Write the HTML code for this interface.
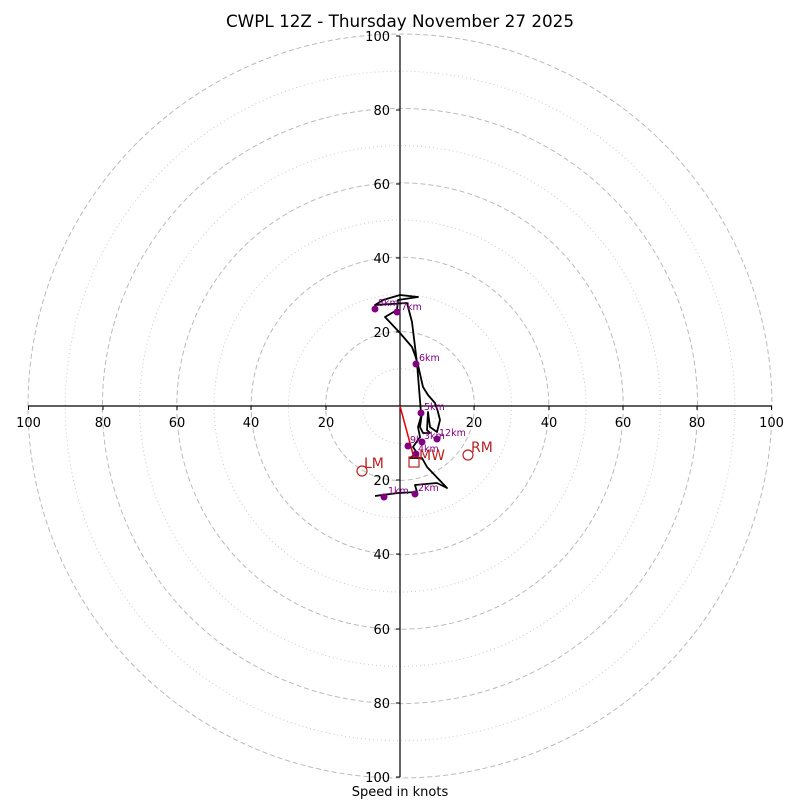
<!DOCTYPE html>
<html><head><style>body{margin:0;background:#fff}svg{display:block}</style></head><body>
<svg width="800" height="800" viewBox="0 0 800 800" xmlns="http://www.w3.org/2000/svg" font-family="DejaVu Sans, Liberation Sans, sans-serif">
<rect width="800" height="800" fill="#fff"/>
<g fill="none" stroke="#bbb" stroke-width="1">
<g stroke-dasharray="5,3">
<circle cx="400" cy="406" r="74.4"/><circle cx="400" cy="406" r="148.8"/><circle cx="400" cy="406" r="223.2"/><circle cx="400" cy="406" r="297.6"/><circle cx="400" cy="406" r="372"/>
</g>
<g stroke-dasharray="1,3" stroke="#ccc">
<circle cx="400" cy="406" r="37.2"/><circle cx="400" cy="406" r="111.6"/><circle cx="400" cy="406" r="186"/><circle cx="400" cy="406" r="260.4"/><circle cx="400" cy="406" r="334.8"/>
</g>
</g>
<g stroke="#000" stroke-width="1.2">
<line x1="28" y1="406" x2="772" y2="406"/><line x1="400" y1="36" x2="400" y2="777"/>
</g>
<g stroke="#000" stroke-width="1">
<line x1="28.5" y1="406" x2="28.5" y2="410"/><line x1="103" y1="406" x2="103" y2="410"/><line x1="177" y1="406" x2="177" y2="410"/><line x1="251" y1="406" x2="251" y2="410"/><line x1="326" y1="406" x2="326" y2="410"/>
<line x1="474" y1="406" x2="474" y2="410"/><line x1="549" y1="406" x2="549" y2="410"/><line x1="623" y1="406" x2="623" y2="410"/><line x1="697" y1="406" x2="697" y2="410"/><line x1="771.5" y1="406" x2="771.5" y2="410"/>
<line x1="396" y1="36" x2="400" y2="36"/><line x1="396" y1="110" x2="400" y2="110"/><line x1="396" y1="184" x2="400" y2="184"/><line x1="396" y1="258" x2="400" y2="258"/><line x1="396" y1="332" x2="400" y2="332"/>
<line x1="396" y1="480" x2="400" y2="480"/><line x1="396" y1="554" x2="400" y2="554"/><line x1="396" y1="629" x2="400" y2="629"/><line x1="396" y1="703" x2="400" y2="703"/><line x1="396" y1="777" x2="400" y2="777"/>
</g>
<g font-size="13" fill="#000" text-anchor="middle">
<text x="28.5" y="427">100</text><text x="103" y="427">80</text><text x="177" y="427">60</text><text x="251" y="427">40</text><text x="326" y="427">20</text>
<text x="474" y="427">20</text><text x="549" y="427">40</text><text x="623" y="427">60</text><text x="697" y="427">80</text><text x="771.5" y="427">100</text>
</g>
<g font-size="13" fill="#000" text-anchor="end">
<text x="390" y="41">100</text><text x="390" y="115">80</text><text x="390" y="189">60</text><text x="390" y="263">40</text><text x="390" y="337">20</text>
<text x="390" y="485">20</text><text x="390" y="559">40</text><text x="390" y="634">60</text><text x="390" y="708">80</text><text x="390" y="782">100</text>
</g>
<text x="400" y="27" font-size="16.8" text-anchor="middle">CWPL 12Z - Thursday November 27 2025</text>
<text x="400" y="796" font-size="13" text-anchor="middle">Speed in knots</text>
<polyline fill="none" stroke="#000" stroke-width="1.8" stroke-linejoin="round" points="375,496 398,493 417,492 415,485 437,483 447,488 427,467 422,458 410,458 417,453 413,447 420,437 418,427 422,413 420,427 423,433 430,433 427,430 428,412 430,427 437,432 440,420 438,412 435,403 428,395 423,387 418,365 415,355 412,347 400,333 385,317 397,310 398,300 418,297 400,295 383,300 375,305 407,303 412,322 417,363 421,413"/>
<line x1="400" y1="406" x2="414" y2="458" stroke="#e00" stroke-width="1.5"/>
<g fill="#800080">
<circle cx="375" cy="309" r="3.5"/><circle cx="397" cy="312" r="3.5"/><circle cx="416" cy="364" r="3.5"/><circle cx="421" cy="413" r="3.5"/><circle cx="437" cy="439" r="3.5"/><circle cx="422" cy="442" r="3.5"/><circle cx="408" cy="446" r="3.5"/><circle cx="416" cy="454" r="3.5"/><circle cx="415" cy="494" r="3.5"/><circle cx="384" cy="497" r="3.5"/>
</g>
<g fill="#800080" font-size="9.5">
<text x="378" y="306">8km</text><text x="401" y="310">7km</text><text x="419" y="361">6km</text><text x="424" y="410">5km</text><text x="439" y="436">12km</text><text x="424" y="439">3km</text><text x="410" y="443">9k</text><text x="418" y="452">4km</text><text x="418" y="491">2km</text><text x="388" y="494">1km</text>
</g>
<g fill="none" stroke="#b22" stroke-width="1.2">
<circle cx="362" cy="471" r="5"/><circle cx="468" cy="455" r="5"/><rect x="409" y="457" width="10" height="10"/>
</g>
<g fill="#b22" font-size="14">
<text x="364" y="468">LM</text><text x="471" y="452">RM</text><text x="419" y="460">MW</text>
</g>
</svg>
</body></html>
